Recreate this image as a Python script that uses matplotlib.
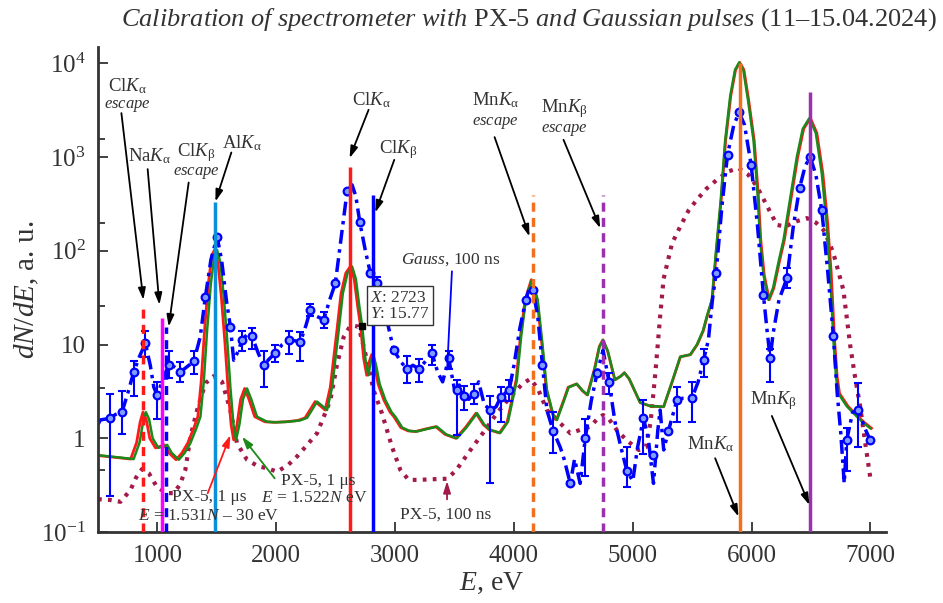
import numpy as np
import matplotlib
matplotlib.use('Agg')
import matplotlib.pyplot as plt

plt.rcParams['font.family'] = 'Liberation Serif'
plt.rcParams['mathtext.fontset'] = 'custom'
plt.rcParams['mathtext.rm'] = 'Liberation Serif'
plt.rcParams['mathtext.it'] = 'Liberation Serif:italic'
plt.rcParams['mathtext.bf'] = 'Liberation Serif:bold'

# PX-5, 1 us, E = 1.522N eV (green)
green_E = [500, 600, 700, 800, 850, 880, 903, 930, 960, 1008, 1050, 1082, 1120, 1180, 1230, 1278,
           1330, 1362, 1390, 1418, 1450, 1480, 1502, 1530, 1558, 1590, 1614, 1640, 1662, 1690, 1720,
           1754, 1790, 1838, 1923, 2000, 2100, 2200, 2259, 2300, 2343, 2390, 2427, 2470, 2525, 2560,
           2600, 2638, 2670, 2700, 2723, 2750, 2775, 2795, 2816, 2840, 2870, 2918, 2970, 3002, 3060,
           3120, 3182, 3260, 3352, 3430, 3520, 3600, 3689, 3750, 3800, 3885, 3950, 4000, 4025, 4060,
           4100, 4151, 4200, 4240, 4277, 4330, 4362, 4420, 4460, 4530, 4580, 4620, 4680, 4720, 4750,
           4790, 4850, 4900, 4930, 4970, 5062, 5150, 5259, 5330, 5399, 5483, 5540, 5590, 5623, 5665,
           5700, 5740, 5777, 5820, 5860, 5895, 5930, 5970, 6016, 6050, 6071, 6100, 6141, 6180, 6230,
           6268, 6330, 6380, 6430, 6486, 6540, 6590, 6630, 6660, 6688, 6710, 6730, 6800, 6857, 6930, 6997]
green_y = [0.66, 0.64, 0.62, 0.60, 0.9, 1.5, 1.9, 1.6, 1.0, 0.79, 0.82, 0.85, 0.7, 0.59, 0.7, 0.89,
           1.3, 1.7, 4.0, 14, 45, 90, 102, 75, 33, 10, 3.5, 1.4, 0.96, 1.4, 2.6,
           3.4, 2.6, 1.7, 1.5, 1.48, 1.5, 1.55, 1.65, 2.0, 2.46, 2.2, 2.0, 3.5, 14, 35,
           58, 68, 50, 25, 15.77, 7, 4.7, 6.5, 7.8, 6, 3.8, 2.56, 1.9, 1.7, 1.3,
           1.2, 1.18, 1.25, 1.33, 1.1, 1.0, 1.3, 1.85, 1.4, 1.23, 1.14, 1.5, 3.0, 4.2, 12,
           30, 49, 30, 10, 3.3, 1.8, 1.57, 2.5, 3.5, 3.8, 3.2, 2.9, 5.5, 9.5, 11.2,
           8.5, 4.2, 4.6, 5.0, 4.3, 2.4, 2.2, 2.17, 4, 7.4, 7.8, 10, 14, 20, 30,
           100, 350, 1500, 4500, 8500, 10200, 8500, 4000, 1500, 400, 130, 55, 30, 40, 80,
           130, 400, 1000, 2000, 2600, 1800, 670, 200, 58, 11.2, 4.5, 3.0, 2.2, 1.85, 1.5, 1.28]

# PX-5, 100 ns (dotted)
px100_E = [500, 600, 689, 773, 820, 871, 930, 997, 1080, 1137, 1190, 1235, 1278, 1334, 1404, 1474,
           1544, 1614, 1670, 1754, 1850, 1923, 2007, 2100, 2175, 2260, 2343, 2400, 2455, 2510, 2567,
           2620, 2660, 2693, 2740, 2780, 2818, 2889, 2974, 3044, 3114, 3200, 3296, 3437, 3510, 3576,
           3650, 3717, 3790, 3857, 3930, 3997, 4070, 4137, 4200, 4277, 4362, 4474, 4557, 4642, 4700,
           4750, 4800, 4870, 4950, 5050, 5110, 5150, 5190, 5230, 5259, 5330, 5399, 5470, 5539, 5620,
           5707, 5800, 5889, 5970, 6044, 6130, 6212, 6283, 6370, 6465, 6540, 6604, 6650, 6688, 6730,
           6772, 6828, 6870, 6913, 6950, 6997]
px100_y = [0.224, 0.22, 0.21, 0.28, 0.38, 0.47, 0.42, 0.30, 0.26, 0.26, 0.32, 0.46, 1.04, 2.0, 3.86, 4.6,
           4.0, 2.0, 0.88, 0.59, 0.5, 0.48, 0.44, 0.52, 0.64, 0.85, 1.13, 1.7, 2.56, 6, 12,
           15.6, 15.8, 15.5, 9, 5.5, 3.28, 1.85, 0.81, 0.46, 0.36, 0.36, 0.365, 0.37, 0.45, 0.59,
           0.8, 1.04, 1.4, 1.85, 2.4, 3.0, 3.8, 4.3, 3.4, 2.0, 1.57, 1.13, 1.23, 1.33, 1.6,
           1.77, 1.6, 1.2, 0.95, 0.75, 0.8, 1.5, 5, 20, 50, 120, 181, 270, 350, 460,
           570, 700, 760, 650, 485, 300, 189, 181, 205, 223, 200, 167, 125, 94, 60,
           38, 10, 4.5, 2.2, 1.0, 0.39]

# Gauss, 100 ns (dash-dot line)
gauss_E = [500, 520, 560, 600, 650, 703, 750, 801, 850, 899, 940, 970, 997, 1040, 1095, 1140, 1194,
           1250, 1306, 1360, 1404, 1450, 1502, 1540, 1580, 1614, 1642, 1680, 1712, 1760, 1796, 1850,
           1894, 1940, 1992, 2050, 2104, 2150, 2203, 2250, 2287, 2340, 2399, 2450, 2497, 2550, 2596,
           2638, 2670, 2702, 2750, 2792, 2848, 2918, 2987, 3050, 3100, 3150, 3200, 3250, 3310, 3360,
           3400, 3451, 3500, 3540, 3580, 3620, 3660, 3703, 3750, 3800, 3850, 3890, 3960, 4000, 4050,
           4100, 4130, 4160, 4200, 4240, 4277, 4330, 4388, 4416, 4474, 4510, 4557, 4600, 4650, 4700,
           4750, 4800, 4850, 4900, 4950, 5000, 5040, 5090, 5130, 5174, 5210, 5230, 5260, 5300, 5371,
           5420, 5497, 5550, 5595, 5636, 5670, 5701, 5750, 5797, 5850, 5895, 5940, 5996, 6050, 6099,
           6130, 6156, 6180, 6230, 6297, 6350, 6403, 6450, 6492, 6540, 6590, 6640, 6688, 6720, 6750,
           6779, 6800, 6850, 6898, 6950, 6997]
gauss_y = [1.4, 1.57, 1.6, 1.64, 1.8, 1.92, 3.0, 5.1, 7.5, 10.3, 6.0, 3.5, 2.9, 4.0, 6.1, 5.8, 5.1,
           5.8, 6.6, 12, 32.4, 80, 141, 80, 30, 15.5, 6.8, 8.5, 11.2, 13, 12.2, 8,
           6.0, 7, 8.1, 10, 11.2, 11, 10.7, 16, 23.4, 20, 18.4, 30, 45, 150, 430,
           505, 380, 205, 100, 57.6, 45, 21.6, 8.8, 6.5, 5.5, 6.0, 5.5, 6.5, 8.1, 5.0,
           4.0, 7.1, 3.3, 3.7, 2.8, 2.6, 3.0, 4.0, 2.3, 2.0, 2.17, 2.78, 3.28, 6, 15,
           30, 40, 38, 20, 6, 2.0, 1.2, 0.81, 0.64, 0.33, 0.6, 0.33, 1.0, 2.5, 5,
           8.7, 4, 1.5, 0.8, 0.45, 0.35, 0.8, 1.63, 1.0, 0.33, 1.2, 2.0, 0.75, 1.2, 2.56,
           2.67, 2.67, 4, 6.8, 11.2, 30, 57.6, 300, 1060, 2200, 2990, 2200, 820, 180, 33.8,
           14, 7.1, 13, 30, 51, 180, 465, 800, 1000, 650, 272, 60, 12.2, 3, 1.13,
           0.33, 0.96, 1.9, 2.0, 1.3, 0.96]

# Gauss, 100 ns: measured points and error bar limits
pts_E = [600, 703, 801, 899, 997, 1095, 1194, 1306, 1404, 1502, 1614, 1712, 1796, 1894, 1992, 2104,
         2203, 2287, 2399, 2497, 2596, 2702, 2792, 2848, 2918, 2987, 3100, 3200, 3310, 3451, 3520,
         3580, 3660, 3800, 3890, 3960, 4100, 4160, 4240, 4330, 4474, 4600, 4700, 4800, 4950, 5090,
         5174, 5300, 5371, 5497, 5595, 5701, 5797, 5895, 5996, 6099, 6156, 6297, 6403, 6492, 6590,
         6688, 6800, 6898, 6997]
pts_y = [1.64, 1.92, 5.1, 10.3, 2.9, 6.1, 5.1, 6.6, 32.4, 141, 15.5, 11.2, 12.2, 6.0, 8.1, 11.2,
         10.7, 23.4, 18.4, 45, 430, 205, 57.6, 45, 21.6, 8.8, 5.5, 5.5, 8.1, 7.1, 3.3,
         2.8, 3.0, 2.0, 2.78, 3.28, 30, 38, 6, 1.2, 0.33, 1.0, 5, 4, 0.45, 1.63,
         0.66, 1.2, 2.56, 2.67, 6.8, 57.6, 1060, 2990, 820, 33.8, 7.1, 51, 465, 1000, 272,
         12.2, 0.96, 2.0, 0.96]
pts_lo = [0.24, 1.1, 2.8, 7.3, 1.6, 4.4, 4.0, 4.8, 32.4, 141, 15.5, 8.5, 9.0, 3.5, 6.5, 8.0,
          6.6, 20, 15, 45, 430, 205, 57.6, 40, 21.6, 8.8, 3.9, 4.0, 6.0, 5.5, 1.08,
          2.0, 2.3, 0.33, 1.5, 2.5, 30, 38, 6, 0.7, 0.33, 0.4, 5, 3, 0.3, 0.68,
          0.66, 1.2, 1.5, 1.5, 4.5, 57.6, 1060, 2990, 820, 33.8, 4.0, 40, 465, 1000, 272,
          12.2, 0.45, 0.8, 0.96]
pts_hi = [3.0, 3.2, 6.6, 14, 4.0, 8.5, 6.5, 8.5, 32.4, 141, 15.5, 14, 15, 8.5, 10, 14,
          13.5, 27, 22, 45, 430, 205, 57.6, 52, 21.6, 8.8, 7.5, 7.0, 10, 8.5, 4.2,
          3.6, 3.8, 2.8, 3.5, 4.2, 30, 38, 6, 1.9, 0.33, 1.6, 5, 5, 0.8, 2.56,
          0.66, 1.2, 3.5, 4.0, 9.0, 57.6, 1060, 2990, 820, 33.8, 9.0, 65, 465, 1000, 272,
          12.2, 1.3, 3.9, 0.96]

# reference lines: energy, top value, colour, dashed
line_E = [882, 1041, 1076, 1487, 2622, 2816, 4159, 4750, 5899, 6490]
line_top = [28, 19.4, 15.3, 333, 790, 391, 391, 391, 10000, 4900]
line_color = ['#ff1a1a', '#ff00ff', '#0000ff', '#0a8fd8', '#ff1a1a', '#0000ff',
              '#f07020', '#9b30b0', '#f07020', '#9b30b0']
line_dashed = [True, False, True, False, False, False, True, True, False, False]

# red series: same PX-5 channels, calibration E = 1.531N - 30 eV
channel = np.array(green_E) / 1.522
red_E = 1.531 * channel - 30

fig = plt.figure(figsize=(9.43, 6.03), dpi=100)
ax = fig.add_axes([0.1039, 0.1177, 0.8356, 0.8043])
ax.set_yscale('log')

ax.plot(px100_E, px100_y, color='#a3194b', lw=3.0, linestyle=(0, (0.9, 1.5)), zorder=2)
ax.plot(red_E, green_y, color='#ff1a1a', lw=2.0, zorder=2.2)
ax.plot(green_E, green_y, color='#1a8a1a', lw=1.8, zorder=2.3)
ax.plot(gauss_E, gauss_y, color='#0000ff', lw=2.5, linestyle=(0, (4, 1.6, 1, 1.6)), zorder=2.5)

pts_E = np.array(pts_E)
pts_y = np.array(pts_y)
pts_lo = np.array(pts_lo)
pts_hi = np.array(pts_hi)
has_err = pts_hi > pts_lo
ax.errorbar(pts_E[has_err], pts_y[has_err],
            yerr=[pts_y[has_err] - pts_lo[has_err], pts_hi[has_err] - pts_y[has_err]],
            fmt='none', ecolor='#0000ff', elinewidth=1.5, capsize=3, capthick=1.5, zorder=2.5)
ax.plot(pts_E, pts_y, 'o', ms=5.5, mfc='#7f9cff', mec='#0000ff', mew=1.6, zorder=2.6)

for e, top, c, d in zip(line_E, line_top, line_color, line_dashed):
    ls = (0, (2.6, 1.8)) if d else '-'
    ax.vlines(e, 0.1, top, colors=c, lw=2.5, linestyles=[ls], zorder=3)

ax.plot([2723], [15.77], 's', color='black', ms=5, zorder=4)

ax.set_xlim(500, 7130)
ax.set_ylim(0.1, 1.49e4)
ax.set_xticks([1000, 2000, 3000, 4000, 5000, 6000, 7000])
ax.set_yticks([0.1, 1, 10, 100, 1000, 10000])
ax.set_yticklabels(['$10^{-1}$', '1', '10', '$10^{2}$', '$10^{3}$', '$10^{4}$'])
ax.set_yticks([0.46, 3.4, 26, 200, 1550], minor=True)
ax.yaxis.set_minor_formatter(matplotlib.ticker.NullFormatter())
ax.tick_params(axis='both', which='major', direction='in', length=7, width=1.3,
               labelsize=18, colors='#333333', pad=9)
ax.tick_params(axis='y', which='minor', direction='in', length=5, width=1.3, colors='#333333')
ax.tick_params(axis='x', which='minor', length=0)
for s in ['top', 'right']:
    ax.spines[s].set_visible(False)
for s in ['left', 'bottom']:
    ax.spines[s].set_linewidth(2.0)
    ax.spines[s].set_color('#333333')

ax.set_xlabel('$\\mathit{E}$, eV', fontsize=20, color='#333333', labelpad=3)
ax.set_ylabel('$\\mathit{dN/dE}$, a. u.', fontsize=21, color='#333333', labelpad=0)

fig.text(0.561, 0.968,
         '$\\mathit{Calibration\\ of\\ spectrometer\\ with}$ PX-5 '
         '$\\mathit{and\\ Gaussian\\ pulses}$ (11\u201315.04.2024)',
         ha='center', va='center', fontsize=19, color='#333333')

tc = '#333333'
ka = '$\\mathit{K}_{\\mathrm{\u03b1}}$'
kb = '$\\mathit{K}_{\\mathrm{\u03b2}}$'
esc = '$\\mathit{escape}$'
arrow = dict(arrowstyle='-|>,head_length=0.7,head_width=0.22', color='black', lw=1.3,
             shrinkA=0, shrinkB=0)


def label(x, y, s, size=13.5, color=tc):
    ax.text(x, y, s, ha='center', va='center', fontsize=size, color=color)


def arr(x0, y0, x1, y1, color='black'):
    props = dict(arrow)
    props['color'] = color
    ax.annotate('', xy=(x1, y1), xytext=(x0, y0), arrowprops=props)


label(745, 5650, 'Cl' + ka)
label(745, 3520, esc, 12)
arr(697, 2940, 882, 29.9)
label(931, 1010, 'Na' + ka)
arr(918, 743, 1017, 26.5)
label(1326, 1117, 'Cl' + kb)
label(1326, 673, esc, 12)
arr(1263, 534, 1095, 15.5)
label(1712, 1413, 'Al' + ka)
arr(1622, 1117, 1488, 335)
label(2802, 4077, 'Cl' + ka)
arr(2777, 3190, 2617, 973)
label(3027, 1194, 'Cl' + kb)
arr(2993, 933, 2833, 256)
label(3843, 4010, 'Mn' + ka)
label(3843, 2300, esc, 12)
arr(3837, 1630, 4131, 142)
label(4421, 3325, 'Mn' + kb)
label(4421, 1950, esc, 12)
arr(4417, 1527, 4726, 174)
label(5655, 0.869, 'Mn' + ka)
arr(5693, 0.612, 5889, 0.146)
label(6181, 2.52, 'Mn' + kb)
arr(6170, 1.73, 6486, 0.194)

label(1440, 0.238, 'PX-5, 1 \u03bcs', 12.5)
label(1432, 0.148, '$\\mathit{E}$ = 1.531$\\mathit{N}$ \u2013 30 eV', 12.5)
arr(1423, 0.259, 1614, 1.08, '#ff1a1a')
label(2354, 0.353, 'PX-5, 1 \u03bcs', 12.5)
label(2320, 0.231, '$\\mathit{E}$ = 1.522$\\mathit{N}$ eV', 12.5)
arr(1987, 0.374, 1712, 1.04, '#1a8a1a')
label(3425, 0.152, 'PX-5, 100 ns', 12.5)
arr(3437, 0.223, 3437, 0.35, '#a3194b')

label(3468, 81.4, '$\\mathit{Gauss}$, 100 ns', 12.5)
ax.plot([3478, 3439], [60, 5.77], color='#0000ff', lw=1.3, zorder=3)

ax.text(2790, 25.8, '$\\mathit{X}$: 2723\n$\\mathit{Y}$: 15.77', ha='left', va='center',
        fontsize=12.5, color=tc, linespacing=1.0, zorder=5,
        bbox=dict(boxstyle='square,pad=0.2', fc='white', ec='#333333', lw=1.0))

fig.savefig('out.png', dpi=100)
